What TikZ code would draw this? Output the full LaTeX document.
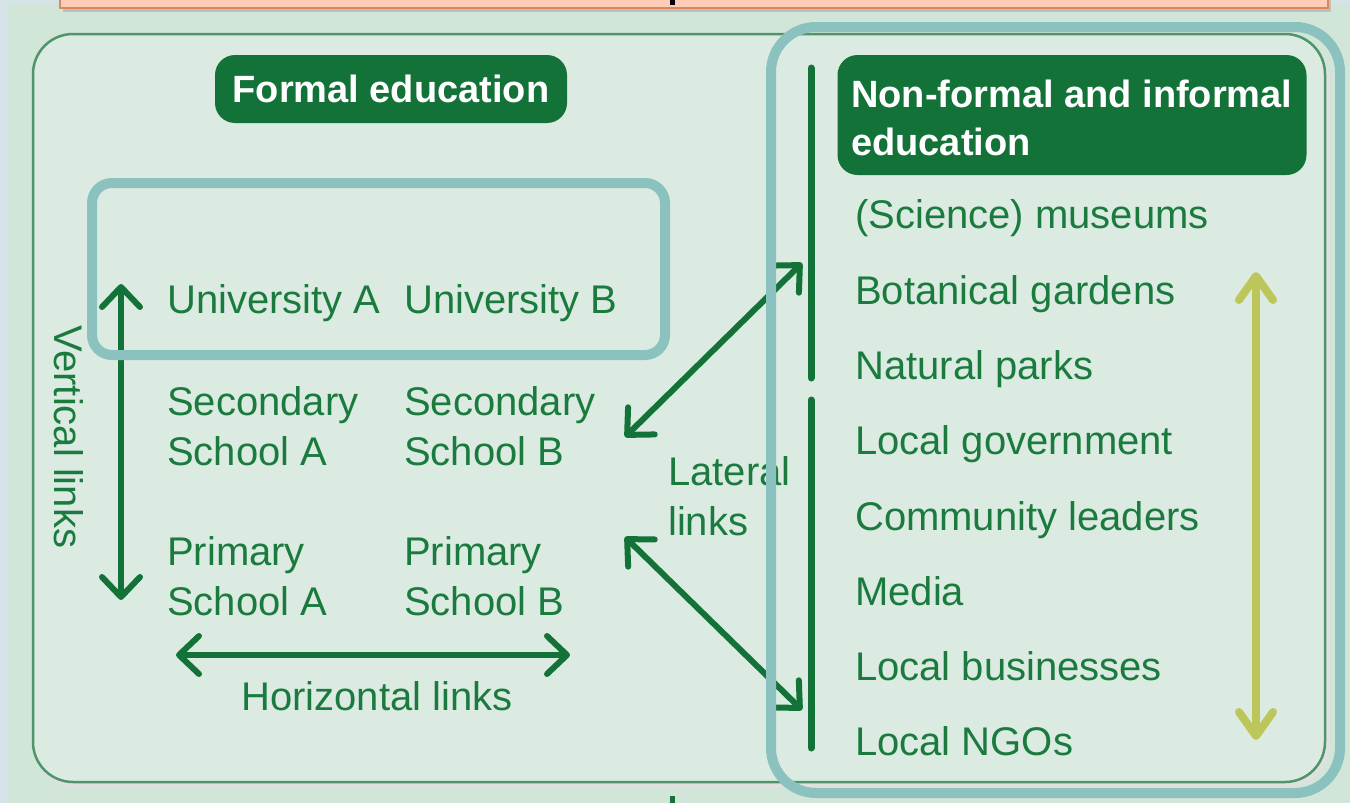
\documentclass[tikz,border=0pt]{standalone}
\usepackage{fontspec}
\setmainfont{Liberation Sans}
\usetikzlibrary{arrows.meta}
\definecolor{bgc}{HTML}{D2E5D9}
\definecolor{stripc}{HTML}{D6E3E8}
\definecolor{panelc}{HTML}{DCEBE2}
\definecolor{panelb}{HTML}{4E956A}
\definecolor{tealc}{HTML}{8BC2BF}
\definecolor{dkg}{HTML}{137238}
\definecolor{txtg}{HTML}{1B7B3F}
\definecolor{orf}{HTML}{FDCDB8}
\definecolor{orb}{HTML}{D88A5E}
\definecolor{yelc}{HTML}{BDC65B}
\tikzset{
  lbl/.style={anchor=base west, inner sep=0pt, text=txtg, font=\fontsize{40}{50}\selectfont},
  hdr/.style={fill=dkg, text=white, rounded corners=20pt, font=\bfseries\fontsize{38}{48}\selectfont, inner sep=0pt},
  hdrtxt/.style={inner sep=0pt, text=white, font=\bfseries\fontsize{38}{48}\selectfont},
  link/.style={draw=dkg, line width=6pt, {Straight Barb[length=20pt,width=38pt,round]}-{Straight Barb[length=20pt,width=38pt,round]}},
  bar/.style={draw=dkg, line width=7pt, line cap=round},
  teal/.style={draw=tealc, line width=10pt},
}
\begin{document}
\begin{tikzpicture}[x=1pt,y=-1pt]
\useasboundingbox (0,0) rectangle (1350,803);
% backgrounds
\fill[bgc] (0,0) rectangle (1350,803);
\fill[stripc] (0,0) rectangle (8,803);
\fill[stripc] (0,0) rectangle (1350,3);
% top title box (cut off)
\fill[black!25] (63,-10) rectangle (1331,12);
\filldraw[fill=orf, draw=orb, line width=1.5pt] (60,-12) rectangle (1328,8);
\fill[black] (670,-2) rectangle (675,5);
% bottom tick
\fill[dkg] (670,796) rectangle (675,803);
% main panel
\fill[black!12, rounded corners=40pt] (35,38) rectangle (1329,787);
\filldraw[fill=panelc, draw=panelb, line width=2.5pt, rounded corners=40pt] (33,34) rectangle (1325,782);
% headers
\node[hdr, minimum width=352pt, minimum height=68pt] (formal) at (391,89) {};
\node[hdrtxt, anchor=base] (formalt) at (391,102) {Formal education};
\node[hdr, minimum width=469pt, minimum height=120pt] (nonformal) at (1072,115) {};
\node[hdrtxt, anchor=base west] (nf1) at (851,107) {Non-formal and informal};
\node[hdrtxt, anchor=base west] (nf2) at (851,155) {education};
% right column items
\node[lbl] (i1) at (855,228) {(Science) museums};
\node[lbl] (i2) at (855,304) {Botanical gardens};
\node[lbl] (i3) at (855,379) {Natural parks};
\node[lbl] (i4) at (855,454) {Local government};
\node[lbl] (i5) at (855,530) {Community leaders};
\node[lbl] (i6) at (855,605) {Media};
\node[lbl] (i7) at (855,680) {Local businesses};
\node[lbl] (i8) at (855,755) {Local NGOs};
% vertical bars
\coordinate (b1t) at (811,68);
\coordinate (b1b) at (811,378);
\coordinate (b2t) at (811,400);
\coordinate (b2b) at (811,748);
\draw[bar] (b1t) -- (b1b);
\draw[bar] (b2t) -- (b2b);
% left schools
\node[lbl] (ua) at (167,313) {University A};
\node[lbl] (ub) at (404,313) {University B};
\node[lbl] (sa1) at (167,415) {Secondary};
\node[lbl] (sa2) at (167,465) {School A};
\node[lbl] (sb1) at (404,415) {Secondary};
\node[lbl] (sb2) at (404,465) {School B};
\node[lbl] (pa1) at (167,565) {Primary};
\node[lbl] (pa2) at (167,615) {School A};
\node[lbl] (pb1) at (404,565) {Primary};
\node[lbl] (pb2) at (404,615) {School B};
\node[lbl] (lat1) at (668,485) {Lateral};
\node[lbl] (lat2) at (668,535) {links};
\node[lbl, anchor=base] (hl) at (377,710) {Horizontal links};
\node[inner sep=0pt, text=txtg, font=\fontsize{40}{50}\selectfont, rotate=-90] (vl) at (69,437) {Vertical links};
% arrows
\coordinate (vt) at (121,284);
\coordinate (vb) at (121,600);
\draw[link] (vt) -- (vb);
\coordinate (hl1) at (176,655);
\coordinate (hr1) at (570,655);
\draw[link] (hl1) -- (hr1);
\coordinate (l1a) at (625,437);
\coordinate (l1b) at (802,263);
\draw[link] (l1a) -- (l1b);
\coordinate (l2a) at (625,537);
\coordinate (l2b) at (802,710);
\draw[link] (l2a) -- (l2b);
\coordinate (yt) at (1256,272);
\coordinate (yb) at (1256,740);
\draw[draw=yelc, line width=8pt, {Straight Barb[length=24pt,width=34pt,round]}-{Straight Barb[length=24pt,width=34pt,round]}] (yt) -- (yb);
% teal highlight boxes
\draw[teal, rounded corners=20pt] (92,183) rectangle (665,355);
\draw[teal, rounded corners=45pt] (771,27) rectangle (1340,793);
\end{tikzpicture}
\end{document}
